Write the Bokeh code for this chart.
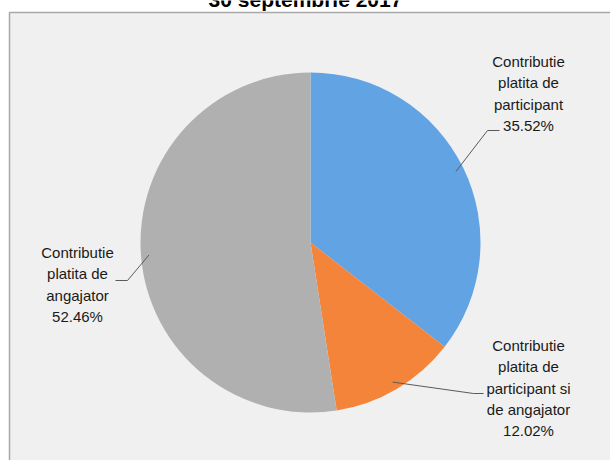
import numpy as np
from bokeh.plotting import figure
from bokeh.models import Range1d, ColumnDataSource
from bokeh.core.properties import value
from bokeh.embed import file_html
from bokeh.resources import INLINE

# ---- data ----
title = "30 septembrie 2017"
categories = [
    "Contributie platita de participant",
    "Contributie platita de participant si de angajator",
    "Contributie platita de angajator",
]
label_lines = [
    ["Contributie", "platita de", "participant"],
    ["Contributie", "platita de", "participant si", "de angajator"],
    ["Contributie", "platita de", "angajator"],
]
shares = [35.52, 12.02, 52.46]
colors = ["#62a3e4", "#f4843a", "#b0b0b0"]

# ---- layout (picture pixel coordinates) ----
W, H = 610, 460
OX, OY = 0, 0
CX, CY, R = 310, 242, 170
label_anchor = [(528, 61), (528, 345), (77, 252)]      # centre of first text line
elbow = [((487, 130), (499, 130)), ((473, 393), (483, 393)), ((127, 280), (115, 280))]
LINE_H = 21.3


def dx(x):
    return x - OX


def dy(y):
    return H - (y - OY)


p = figure(width=W, height=H, x_range=Range1d(0, W), y_range=Range1d(0, H),
           output_backend="svg", toolbar_location=None, min_border=0)
p.axis.visible = False
p.grid.visible = False
p.outline_line_color = None
p.background_fill_color = "white"
p.border_fill_color = "white"

# chart area
p.quad(left=[dx(9)], right=[dx(630)], top=[dy(12)], bottom=[dy(480)],
       fill_color="#f0f0f0", line_color="#a8a8a8", line_width=1.5)

# pie
vals = np.array(shares) / sum(shares)
cum = np.concatenate([[0], np.cumsum(vals)])
start = np.pi / 2 - 2 * np.pi * cum[:-1]
end = np.pi / 2 - 2 * np.pi * cum[1:]
src = ColumnDataSource(dict(start=start, end=end, color=colors, name=categories))
p.wedge(x=dx(CX), y=dy(CY), radius=R, start_angle="start", end_angle="end",
        direction="clock", fill_color="color", line_color=None, source=src)

# leader lines
mid = (cum[:-1] + cum[1:]) / 2 * 2 * np.pi  # clockwise from top
xs, ys = [], []
for i, m in enumerate(mid):
    sx = CX + (R - 8) * np.sin(m)
    sy = CY - (R - 8) * np.cos(m)
    (ex, ey), (fx, fy) = elbow[i]
    xs.append([dx(sx), dx(ex), dx(fx)])
    ys.append([dy(sy), dy(ey), dy(fy)])
p.multi_line(xs=xs, ys=ys, line_color="#5a5a5a", line_width=1)

# labels
tx, ty, tt = [], [], []
for i, lines in enumerate(label_lines):
    ax, ay = label_anchor[i]
    allines = lines + [f"{shares[i]:.2f}%"]
    for j, t in enumerate(allines):
        tx.append(dx(ax))
        ty.append(dy(ay + j * LINE_H))
        tt.append(t)
p.text(x=tx, y=ty, text=tt, text_align="center", text_baseline="middle",
       text_font=value("Liberation Sans"), text_font_size="15px", text_color="#1a1a1a")

# title (clipped at the top, as in the reference)
p.text(x=[dx(305)], y=[dy(-1)], text=[title], text_align="center", text_baseline="alphabetic",
       text_font=value("Liberation Sans"), text_font_size="21px", text_font_style="bold",
       text_color="#000000")

open("out.html", "w").write(file_html(p, INLINE))
